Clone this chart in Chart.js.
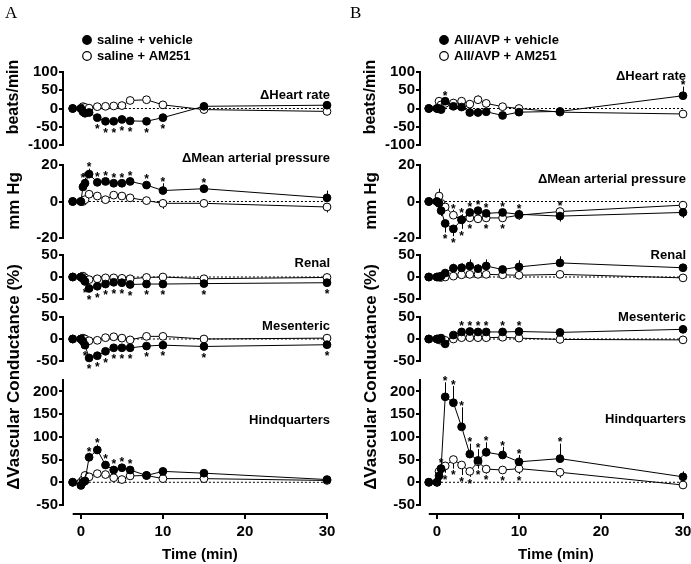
<!DOCTYPE html>
<html>
<head>
<meta charset="utf-8">
<script src="https://cdn.jsdelivr.net/npm/chart.js@4.4.1/dist/chart.umd.min.js"></script>
<style>
  html, body { margin: 0; padding: 0; background: #fff; overflow: hidden; }
  #wrap { position: relative; width: 691px; height: 564px; overflow: hidden; }
  #wrap canvas { position: absolute; left: 0; top: 0; }
</style>
</head>
<body>
<div id="wrap"></div>
<script>
// time points (min)
const TIME = [-1, 0, 0.25, 0.5, 1, 2, 3, 4, 5, 6, 8, 10, 15, 30];
const X_TICKS = [0, 10, 20, 30];
const X_RANGE = [-1, 30];

const HR_TICKS = [-100, -50, 0, 50, 100];
const MAP_TICKS = [-20, 0, 20];
const FLOW_TICKS = [-50, 0, 50];
const HQ_TICKS = [-50, 0, 50, 100, 150, 200];
const HR_RANGE = [-100, 100];
const MAP_RANGE = [-20, 20];
const FLOW_RANGE = [-50, 50];
const HQ_RANGE = [-50, 225];

const PANEL_NAMES = ['ΔHeart rate', 'ΔMean arterial pressure', 'Renal', 'Mesenteric', 'Hindquarters'];
const LEGEND_A = ['saline + vehicle', 'saline + AM251'];
const LEGEND_B = ['AII/AVP + vehicle', 'AII/AVP + AM251'];

// ---- panel A : saline ----  (err > 0 : bar up, err < 0 : bar down)
const A_HR_VEH     = [0, 0, -9, -13, -11, -25, -35, -35, -30, -34, -35, -25, 6, 9];
const A_HR_VEH_ERR = [0, 0, -5, -5, -5, -4, -4, -4, -4, -4, -4, -4, 4, 4];
const A_HR_AM      = [0, 0, 5, 3, 1, 5, 6, 7, 8, 22, 24, 10, -3, -8];
const A_HR_AM_ERR  = [0, 0, 0, 0, 0, 0, 0, 8, 10, 10, 6, 0, -4, -8];
const A_HR_SIG     = [[2, -1], [3, -1], [4, -1], [5, -1], [6, -1], [8, -1], [10, -1]];

const A_MAP_VEH     = [0, 0, 8, 10, 15, 10.5, 11, 10, 10, 11, 9, 6, 7, 2];
const A_MAP_VEH_ERR = [0, 0, 4, 3, 3, 2, 2, 2, 2, 2, 2, 4, 2, 4];
const A_MAP_AM      = [0, 0, 0, 1, 4, 3, 1, 3.5, 3, 2, 0.5, -1, -1, -3];
const A_MAP_AM_ERR  = [0, 0, 0, 0, -1, -1, 0, -1, -1, 0, -1, -3, -1, -3];
const A_MAP_SIG     = [[0.25, 1], [0.5, 1], [1, 1], [2, 1], [3, 1], [4, 1], [5, 1], [6, 1], [8, 1], [10, 1], [15, 1]];

const A_REN_VEH     = [0, 0, -4, -10, -26, -21, -16, -12, -13, -17, -16, -16, -15, -13];
const A_REN_VEH_ERR = [0, 0, 0, -3, -4, -4, -3, -3, -3, -3, -3, -3, -3, -3];
const A_REN_AM      = [0, 0, 2, -2, -6, -4, -2, -2, -3, -4, -1, 0, -4, -1];
const A_REN_AM_ERR  = [0, 0, 0, 0, 2, 2, 2, 2, 2, 2, 2, 2, 2, 2];
const A_REN_SIG     = [[0.5, -1], [1, -1], [2, -1], [3, -1], [4, -1], [5, -1], [6, -1], [8, -1], [10, -1], [15, -1], [30, -1]];

const A_MES_VEH     = [0, 0, -5, -14, -43, -38, -28, -20, -20, -20, -16, -14, -17, -13];
const A_MES_VEH_ERR = [0, 0, 0, -3, -4, -4, -4, -3, -3, -3, -3, -3, -3, -3];
const A_MES_AM      = [0, 0, 2, 0, -4, -3, 3, 5, 2, -2, 6, 6, 0, 2];
const A_MES_AM_ERR  = [0, 0, 0, 0, 0, 0, 2, 2, 2, 2, 3, 3, 2, 2];
const A_MES_SIG     = [[0.5, -1], [1, -1], [2, -1], [3, -1], [4, -1], [5, -1], [6, -1], [8, -1], [10, -1], [15, -1], [30, -1]];

const A_HQ_VEH     = [0, -7, 0, 3, 55, 71, 38, 27, 32, 27, 15, 24, 20, 6];
const A_HQ_VEH_ERR = [0, 0, 0, 0, 10, 12, 8, 6, 8, 6, 3, 3, 3, 3];
const A_HQ_AM      = [0, 0, 5, 15, 12, 19, 17, 10, 6, 14, 15, 8, 8, 4];
const A_HQ_AM_ERR  = [0, 0, 0, 0, 0, 0, 0, 0, 0, 0, 0, -3, -3, -3];
const A_HQ_SIG     = [[1, 1], [2, 1], [3, 1], [4, 1], [5, 1], [6, 1]];

// ---- panel B : AII/AVP ----
const B_HR_VEH     = [0, 0, 0, -3, 20, 6, 4, -11, -11, -9, -19, -10, -8, 35];
const B_HR_VEH_ERR = [0, 0, 0, -8, 8, -5, -5, -10, -10, -10, -6, -10, 8, 25];
const B_HR_AM      = [0, 0, 20, 10, 14, 15, 20, 12, 24, 14, 5, 0, -10, -15];
const B_HR_AM_ERR  = [0, 0, 8, 0, 0, 10, 10, 8, 12, 8, 6, 4, -4, -6];
const B_HR_SIG     = [[1, 1], [30, 1]];

const B_MAP_VEH     = [0, 0, -1, -5, -12, -15, -10, -6, -5, -6.5, -6, -7, -8, -6];
const B_MAP_VEH_ERR = [0, 0, 0, -3, -5, -4, -5, -3, -3, -3, -3, -3, -3, -3];
const B_MAP_AM      = [0, 0, 3, -1, -3, -7.5, -10, -9, -9.5, -9, -9, -7.5, -5.5, -2];
const B_MAP_AM_ERR  = [0, 0, 4, 0, 0, 3, 3, 3, 3, 3, 3, 3, 0, 0];
const B_MAP_SIG     = [[1, -1], [2, -1], [3, -1], [4, -1], [6, -1], [8, -1],
                       [2, 1], [3, 1], [4, 1], [5, 1], [6, 1], [8, 1], [10, 1], [15, 1]];

const B_REN_VEH     = [0, 0, 0, 2, 9, 20, 21, 25, 19, 25, 17, 23, 32, 21];
const B_REN_VEH_ERR = [0, 0, 0, 0, 5, 10, 10, 15, 10, 15, 5, 15, 15, 8];
const B_REN_AM      = [0, 0, 0, -1, 0, 2, 5, 6, 6, 6, 5, 4, 6, -2];
const B_REN_AM_ERR  = [0, 0, 0, -2, -3, -2, -2, -2, -2, -2, -2, -2, -3, -4];
const B_REN_SIG     = [];

const B_MES_VEH     = [0, 0, 0, 2, -11, 9, 16, 17, 16, 16, 16, 17, 15, 22];
const B_MES_VEH_ERR = [0, 0, 0, 5, 0, 4, 5, 5, 5, 5, 5, 5, 8, 8];
const B_MES_AM      = [0, 0, -2, -3, -3, 0, 3, 3, 3, 3, 4, 2, -1, -2];
const B_MES_AM_ERR  = [0, 0, 0, 0, 0, -2, -2, -2, -2, -2, -2, -6, -4, -4];
const B_MES_SIG     = [[3, 1], [4, 1], [5, 1], [6, 1], [8, 1], [10, 1]];

const B_HQ_VEH     = [0, 0, 14, 30, 188, 175, 122, 62, 48, 66, 60, 45, 52, 12];
const B_HQ_VEH_ERR = [0, 0, 0, 0, 32, 37, 43, 23, 25, 22, 18, 15, 33, 12];
const B_HQ_AM      = [0, 0, 24, 30, 36, 50, 38, 24, 45, 29, 27, 30, 22, -6];
const B_HQ_AM_ERR  = [0, 0, 0, 0, -15, -20, -22, -12, -15, -10, -8, -12, -12, -4];
const B_HQ_SIG     = [[0.5, 1], [1, 1], [2, 1], [3, 1], [4, 1], [5, 1], [6, 1], [8, 1], [10, 1], [15, 1],
                      [1, -1], [2, -1], [3, -1], [4, -1], [5, -1], [6, -1], [8, -1], [10, -1]];

// ---- layout ----
const W = 720, H = 564;
const SANS = '"Liberation Sans", Arial, sans-serif';
const PLOT_LEFT = [64, 421];
const PLOT_RIGHT = [327, 683];
const X_MIN = [-2.06, -1.95];
const ROW_TOP = [72, 165, 255, 317, 380];
const ROW_BOTTOM = [145, 238, 299, 361, 505];
const AXIS_GAP = 8;
const Y_AXIS_W = 64;
const NAME_Y = [[95, 158, 263, 326, 420], [76, 179, 255, 317, 419]];
const LETTER_X = [5, 350];

const ROW_TICKS = [HR_TICKS, MAP_TICKS, FLOW_TICKS, FLOW_TICKS, HQ_TICKS];
const ROW_RANGE = [HR_RANGE, MAP_RANGE, FLOW_RANGE, FLOW_RANGE, HQ_RANGE];

const COLS = [
  { letter: 'A', legend: LEGEND_A, rows: [
    [A_HR_VEH, A_HR_VEH_ERR, A_HR_AM, A_HR_AM_ERR, A_HR_SIG],
    [A_MAP_VEH, A_MAP_VEH_ERR, A_MAP_AM, A_MAP_AM_ERR, A_MAP_SIG],
    [A_REN_VEH, A_REN_VEH_ERR, A_REN_AM, A_REN_AM_ERR, A_REN_SIG],
    [A_MES_VEH, A_MES_VEH_ERR, A_MES_AM, A_MES_AM_ERR, A_MES_SIG],
    [A_HQ_VEH, A_HQ_VEH_ERR, A_HQ_AM, A_HQ_AM_ERR, A_HQ_SIG]] },
  { letter: 'B', legend: LEGEND_B, rows: [
    [B_HR_VEH, B_HR_VEH_ERR, B_HR_AM, B_HR_AM_ERR, B_HR_SIG],
    [B_MAP_VEH, B_MAP_VEH_ERR, B_MAP_AM, B_MAP_AM_ERR, B_MAP_SIG],
    [B_REN_VEH, B_REN_VEH_ERR, B_REN_AM, B_REN_AM_ERR, B_REN_SIG],
    [B_MES_VEH, B_MES_VEH_ERR, B_MES_AM, B_MES_AM_ERR, B_MES_SIG],
    [B_HQ_VEH, B_HQ_VEH_ERR, B_HQ_AM, B_HQ_AM_ERR, B_HQ_SIG]] }
];

const wrap = document.getElementById('wrap');

function pts(vals) {
  return TIME.map((t, i) => ({ x: t, y: vals[i] }));
}

function vText(ctx, s, x, y) {
  ctx.save();
  ctx.translate(x, y);
  ctx.rotate(-Math.PI / 2);
  ctx.textAlign = 'center';
  ctx.fillText(s, 0, 0);
  ctx.restore();
}

// star sits just beyond the outermost point / error bar at that time
function starY(chart, t, side) {
  const y = chart.scales.y;
  const i = TIME.indexOf(t);
  let edge = side > 0 ? Infinity : -Infinity;
  chart.data.datasets.forEach(ds => {
    if (!ds.err) return;
    const v = ds.data[i].y, e = ds.err[i];
    const c = [y.getPixelForValue(v) - side * 4.5];
    if (e * side > 0) c.push(y.getPixelForValue(v + e));
    c.forEach(p => { edge = side > 0 ? Math.min(edge, p) : Math.max(edge, p); });
  });
  return edge - side * 4;
}

function makePlugin(col, row, sig) {
  return {
    id: 'panel',
    beforeDatasetsDraw(chart) {
      const { ctx, chartArea, scales: { x, y } } = chart;
      ctx.save();
      ctx.strokeStyle = '#000';
      ctx.lineWidth = 2;
      ctx.beginPath();
      const ax = chartArea.left - 1;
      ctx.moveTo(ax, y.getPixelForValue(ROW_RANGE[row][1]) - 1);
      ctx.lineTo(ax, y.getPixelForValue(ROW_RANGE[row][0]) + 1);
      if (row === 4) {
        const by = chartArea.bottom + 1;
        ctx.moveTo(x.getPixelForValue(X_RANGE[0]), by);
        ctx.lineTo(x.getPixelForValue(X_RANGE[1]) + 1, by);
      }
      ctx.stroke();
      // error bars
      ctx.lineWidth = 1;
      chart.data.datasets.forEach(ds => {
        if (!ds.err) return;
        ds.data.forEach((d, i) => {
          const e = ds.err[i];
          if (!e) return;
          const px = Math.round(x.getPixelForValue(d.x)) + 0.5;
          ctx.beginPath();
          ctx.moveTo(px, y.getPixelForValue(d.y));
          ctx.lineTo(px, y.getPixelForValue(d.y + e));
          ctx.stroke();
        });
      });
      ctx.restore();
    },
    afterDatasetsDraw(chart) {
      const { ctx, chartArea, scales: { x } } = chart;
      ctx.save();
      ctx.fillStyle = '#000';
      // significance stars
      ctx.font = 'bold 12px ' + SANS;
      ctx.textAlign = 'center';
      ctx.textBaseline = 'alphabetic';
      sig.forEach(([t, side]) => {
        ctx.fillText('*', x.getPixelForValue(t), starY(chart, t, side) + 6.8);
      });
      // panel name
      ctx.font = 'bold 13px ' + SANS;
      ctx.textAlign = 'right';
      ctx.textBaseline = 'middle';
      ctx.fillText(PANEL_NAMES[row], chartArea.right + 3, NAME_Y[col][row]);

      const tx = chartArea.left - 50;
      if (row === 0) {
        ctx.font = '17px "Liberation Serif", "Times New Roman", serif';
        ctx.textAlign = 'left';
        ctx.fillText(COLS[col].letter, LETTER_X[col], 14);
        // legend
        const lx = chartArea.left + 23;
        COLS[col].legend.forEach((s, k) => {
          const ly = 40 + k * 16;
          ctx.beginPath();
          ctx.arc(lx, ly, 4.3, 0, Math.PI * 2);
          ctx.fillStyle = k === 0 ? '#000' : '#fff';
          ctx.fill();
          ctx.lineWidth = 1.2;
          ctx.strokeStyle = '#000';
          ctx.stroke();
          ctx.fillStyle = '#000';
          ctx.font = 'bold 13px ' + SANS;
          ctx.textAlign = 'left';
          ctx.fillText(s, lx + 10, ly);
        });
        ctx.font = 'bold 16px ' + SANS;
        vText(ctx, 'beats/min', tx, 97);
      }
      if (row === 1) {
        ctx.font = 'bold 17px ' + SANS;
        vText(ctx, 'mm Hg', tx, 201);
      }
      if (row === 4) {
        ctx.font = 'bold 17px ' + SANS;
        vText(ctx, 'ΔVascular Conductance (%)', tx, 377);
        ctx.font = 'bold 15px ' + SANS;
        ctx.textAlign = 'center';
        const cx = (x.getPixelForValue(X_RANGE[0]) + x.getPixelForValue(X_RANGE[1])) / 2;
        ctx.fillText('Time (min)', cx, 555);
      }
      ctx.restore();
    }
  };
}

function makeChart(col, row) {
  const [veh, vehErr, am, amErr, sig] = COLS[col].rows[row];
  const last = row === ROW_TOP.length - 1;
  const range = ROW_RANGE[row];
  const top = ROW_TOP[row];
  let bottom = ROW_BOTTOM[row];
  let yMin = range[0];
  if (last) {
    yMin = range[0] - AXIS_GAP * (range[1] - range[0]) / (bottom - top);
    bottom += AXIS_GAP;
  }
  const canvas = document.createElement('canvas');
  canvas.width = W;
  canvas.height = H;
  wrap.appendChild(canvas);

  const tickFont = { family: SANS, size: 15, weight: 'bold' };
  const xScale = {
    type: 'linear',
    min: X_MIN[col],
    max: 30,
    display: last
  };
  if (last) {
    Object.assign(xScale, {
      afterBuildTicks: s => { s.ticks = X_TICKS.map(v => ({ value: v })); },
      afterFit: s => { s.height = H - bottom; },
      grid: { drawOnChartArea: false, tickLength: 6, color: '#000', lineWidth: 2 },
      border: { display: false },
      ticks: { font: tickFont, color: '#000', padding: 4, maxRotation: 0, autoSkip: false }
    });
  }

  new Chart(canvas, {
    type: 'line',
    data: {
      datasets: [
        { data: pts(veh), err: vehErr, borderColor: '#000', borderWidth: 1,
          pointRadius: 3.9, pointBackgroundColor: '#000', pointBorderColor: '#000',
          pointBorderWidth: 1, order: 0, clip: false },
        { data: pts(am), err: amErr, borderColor: '#000', borderWidth: 1,
          pointRadius: 3.9, pointBackgroundColor: '#fff', pointBorderColor: '#000',
          pointBorderWidth: 1, order: 1, clip: false },
        { data: [{ x: TIME[1], y: 0 }, { x: TIME[TIME.length - 1], y: 0 }],
          borderColor: '#000', borderWidth: 1, borderDash: [2, 2], pointRadius: 0,
          order: 2, clip: false }
      ]
    },
    options: {
      responsive: false,
      animation: false,
      events: [],
      layout: {
        padding: {
          left: PLOT_LEFT[col] - Y_AXIS_W,
          right: W - PLOT_RIGHT[col],
          top: top,
          bottom: last ? 0 : H - bottom
        }
      },
      scales: {
        x: xScale,
        y: {
          type: 'linear',
          min: yMin,
          max: range[1],
          afterBuildTicks: s => { s.ticks = ROW_TICKS[row].map(v => ({ value: v })); },
          afterFit: s => { s.width = Y_AXIS_W; },
          grid: { drawOnChartArea: false, tickLength: 5, color: '#000', lineWidth: 2 },
          border: { display: false },
          ticks: { font: tickFont, color: '#000', padding: 1, autoSkip: false }
        }
      },
      plugins: { legend: { display: false }, tooltip: { enabled: false } }
    },
    plugins: [makePlugin(col, row, sig)]
  });
}

for (let c = 0; c < COLS.length; c++) {
  for (let r = 0; r < ROW_TOP.length; r++) makeChart(c, r);
}
</script>
</body>
</html>
